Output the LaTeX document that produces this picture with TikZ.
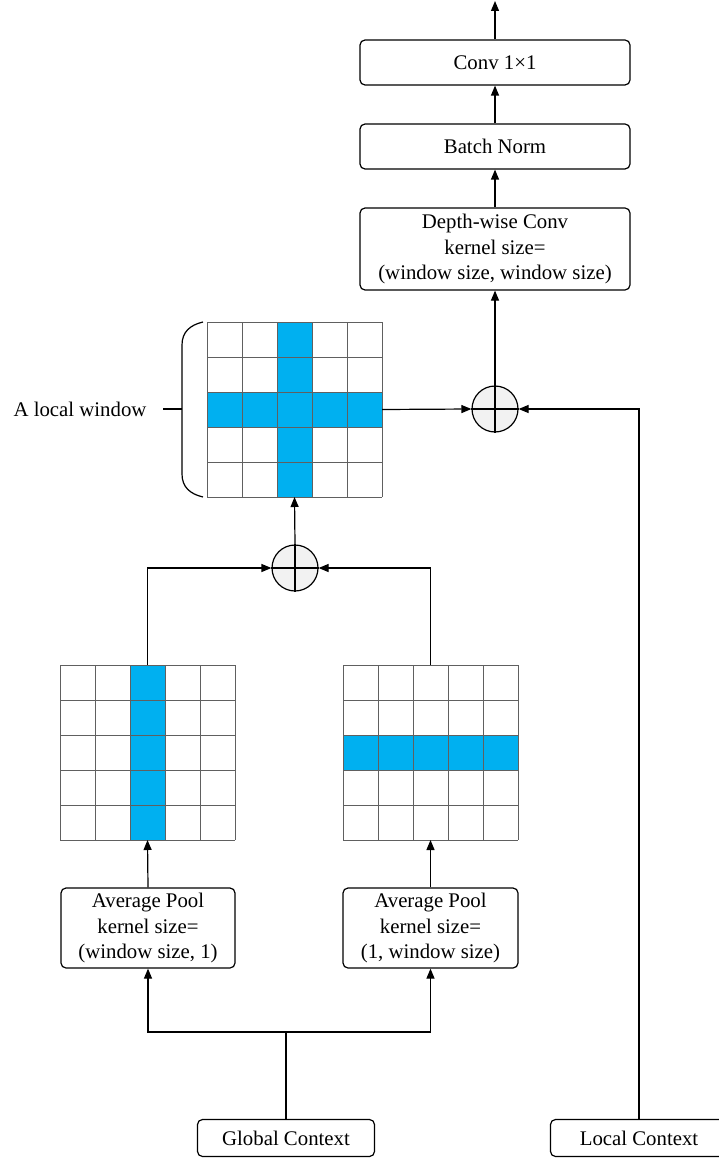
\documentclass[tikz,border=0pt]{standalone}
\usepackage{fontspec}
\setmainfont{Liberation Serif}
\usetikzlibrary{arrows.meta,calc}
\definecolor{cellblue}{HTML}{00B0F0}
\definecolor{sumgray}{HTML}{F2F2F2}
\definecolor{gridgray}{HTML}{606060}
\begin{document}
\begin{tikzpicture}[x=1pt,y=-1pt,
  every node/.style={font=\fontsize{20.8pt}{25.5pt}\selectfont},
  box/.style={draw, rounded corners=5pt, line width=1.2pt, align=center, inner sep=0pt},
  sumc/.style={circle, draw, fill=sumgray, minimum size=46pt, inner sep=0pt, line width=1.2pt},
  gridn/.style={minimum size=175pt, inner sep=0pt, outer sep=0pt},
  gl/.style={draw=gridgray, line width=1pt},
  conn/.style={line width=1.2pt},
  arr/.style={conn, -{Triangle[length=10pt,width=8pt]}}]
\useasboundingbox (0,0) rectangle (718,1158);

% boxes
\node[box, minimum width=270pt, minimum height=45pt] (c1) at (495,62.5) {Conv 1×1};
\node[box, minimum width=270pt, minimum height=45pt] (bn) at (495,146.5) {Batch Norm};
\node[box, minimum width=270pt, minimum height=82pt] (dw) at (495,249) {Depth-wise Conv\\kernel size=\\(window size, window size)};
\node[box, minimum width=174pt, minimum height=80pt] (ap1) at (148,928) {Average Pool\\kernel size=\\(window size, 1)};
\node[box, minimum width=175pt, minimum height=80pt] (ap2) at (430.5,928) {Average Pool\\kernel size=\\(1, window size)};
\node[box, minimum width=177pt, minimum height=37pt] (gc) at (286,1138) {Global Context};
\node[box, minimum width=177pt, minimum height=37pt] (lc) at (639,1138) {Local Context};

% sum nodes
\node[sumc] (s1) at (295,568) {};
\node[sumc] (s2) at (495,409) {};
\draw[conn] (s1.north) -- (s1.south) (s1.west) -- (s1.east);
\draw[conn] (s2.north) -- (s2.south) (s2.west) -- (s2.east);

% grids
\node[gridn] (g3) at (294.5,409.5) {};
\node[gridn] (g1) at (147.5,752.5) {};
\node[gridn] (g2) at (430.5,752.5) {};

\fill[cellblue] ($(g3.north west)+(70pt,0)$) rectangle ($(g3.south west)+(105pt,0)$);
\fill[cellblue] ($(g3.north west)+(0,-70pt)$) rectangle ($(g3.north east)+(0,-105pt)$);
\fill[cellblue] ($(g1.north west)+(70pt,0)$) rectangle ($(g1.south west)+(105pt,0)$);
\fill[cellblue] ($(g2.north west)+(0,-70pt)$) rectangle ($(g2.north east)+(0,-105pt)$);

\foreach \g in {g1,g2,g3}{
  \foreach \i in {0,...,5}{
    \draw[gl] ($(\g.north west)+(\i*35pt,0)$) -- ($(\g.south west)+(\i*35pt,0)$);
    \draw[gl] ($(\g.north west)+(0,-\i*35pt)$) -- ($(\g.north east)+(0,-\i*35pt)$);
  }
}

% brace and label
\node (lw) at (80,409) {A local window};
\draw[conn] (203,322) .. controls (190,325) and (182,332) .. (182,345) -- (182,474) .. controls (182,487) and (190,494) .. (203,497);
\draw[conn] (163,409) -- (182,409);

% connectors
\coordinate (out) at (495,1);
\coordinate (j) at (286,1032);
\draw[arr] (c1.north) -- (out);
\draw[arr] (bn.north) -- (c1.south);
\draw[arr] (dw.north) -- (bn.south);
\draw[arr] (s2.north) -- (dw.south);
\draw[arr] (g3.east) -- (s2.west);
\draw[arr] (lc.north) |- (s2.east);
\draw[arr] (s1.north) -- (g3.south);
\draw[arr] (g1.north) |- (s1.west);
\draw[arr] (g2.north) |- (s1.east);
\draw[arr] (ap1.north) -- (g1.south);
\draw[arr] (ap2.north) -- (g2.south);
\draw[conn] (gc.north) -- (j);
\draw[arr] (j) -| (ap1.south);
\draw[arr] (j) -| (ap2.south);
\end{tikzpicture}
\end{document}
